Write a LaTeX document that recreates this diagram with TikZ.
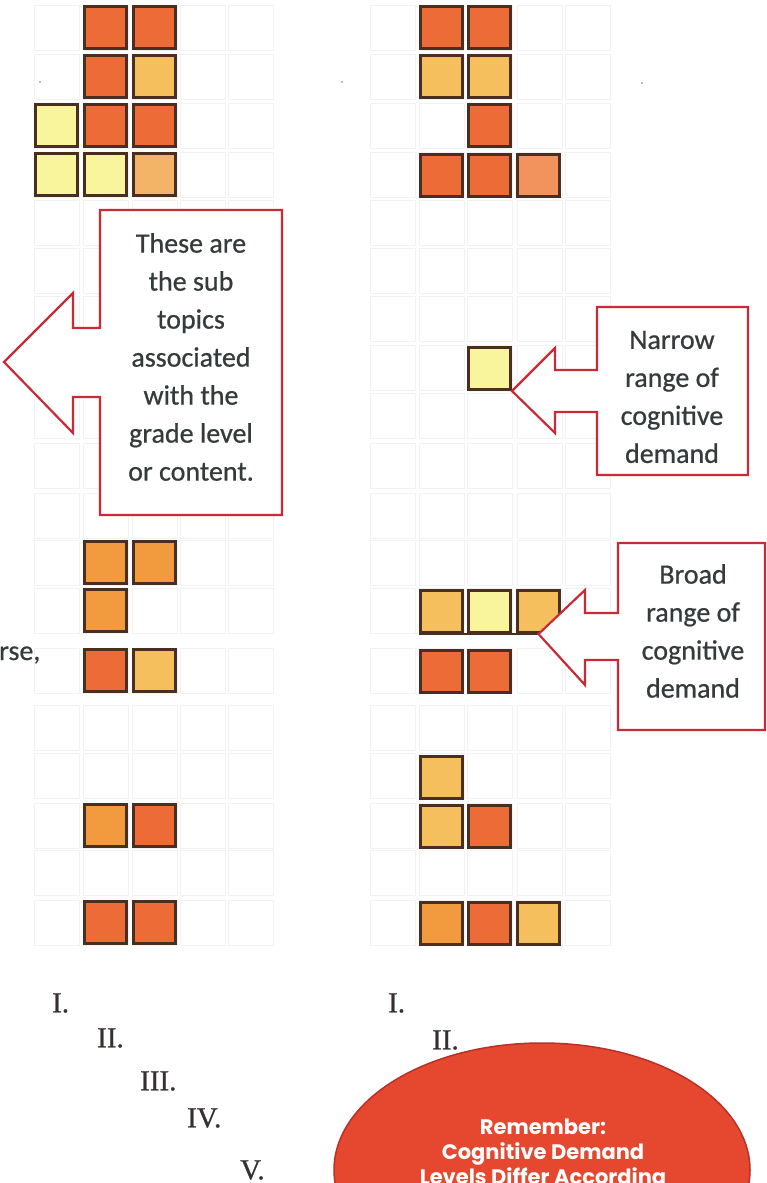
\documentclass[tikz,border=0pt]{standalone}
\usepackage{fontspec}
\newfontfamily\calibri{Carlito}[FakeBold=0.6]
\newfontfamily\gothic{Poppins}
\newfontfamily\romannum{Liberation Serif}[FakeBold=0.8]
\usetikzlibrary{shapes.geometric}

\definecolor{tileline}{HTML}{4A2F20}
\definecolor{dkor}{HTML}{EC6B36}
\definecolor{orng}{HTML}{F29B3E}
\definecolor{gold}{HTML}{F6BF5E}
\definecolor{yelw}{HTML}{F8F59C}
\definecolor{salm}{HTML}{F2935E}
\definecolor{peach}{HTML}{F4B468}
\definecolor{calloutred}{HTML}{C92A36}
\definecolor{notetext}{HTML}{353A3A}
\definecolor{numtext}{HTML}{363030}
\definecolor{ellfill}{HTML}{E6472F}
\definecolor{elldraw}{HTML}{B8302A}

\begin{document}
\begin{tikzpicture}[x=1pt, y=-1pt,
		cell/.style={draw=black!5, line width=0.6pt},
		tile/.style={draw=tileline, line width=3pt, minimum size=42pt, inner sep=0pt},
		note/.style={font=\calibri\fontsize{28}{38}\selectfont, text=notetext, align=center},
		callout/.style={draw=calloutred, line width=2.2pt, fill=white, line join=miter},
		numeral/.style={font=\romannum\fontsize{29}{30}\selectfont, text=numtext, anchor=west, inner sep=0pt}]
		\useasboundingbox (0,0) rectangle (767,1183);
		
		% Faint table grid
		\foreach \y in {5,54,103,152,200,248,296,345,393,443,493,540,588,648,705,753,803,850,900}
		\foreach \x in {34,83,132,180,228,370,419,467,517,565}
		\draw[cell] (\x,\y) rectangle ++(45,45);
		\fill[black!35] (40,82) circle (1.2pt) (342,82) circle (1.2pt) (642,83) circle (1.2pt);
		
		% Left grid
		\node[tile, fill=dkor] (a01) at (105.5,27.5) {};
		\node[tile, fill=dkor] (a02) at (154.5,27.5) {};
		\node[tile, fill=dkor] (a11) at (105.5,76.5) {};
		\node[tile, fill=gold] (a12) at (154.5,76.5) {};
		\node[tile, fill=yelw] (a20) at (56.5,125.5) {};
		\node[tile, fill=dkor] (a21) at (105.5,125.5) {};
		\node[tile, fill=dkor] (a22) at (154.5,125.5) {};
		\node[tile, fill=yelw] (a30) at (56.5,174.5) {};
		\node[tile, fill=yelw] (a31) at (105.5,174.5) {};
		\node[tile, fill=peach] (a32) at (154.5,174.5) {};
		\node[tile, fill=orng] (a41) at (105.5,562.5) {};
		\node[tile, fill=orng] (a42) at (154.5,562.5) {};
		\node[tile, fill=orng] (a51) at (105.5,610.5) {};
		\node[tile, fill=dkor] (a61) at (105.5,670.5) {};
		\node[tile, fill=gold] (a62) at (154.5,670.5) {};
		\node[tile, fill=orng] (a71) at (105.5,825.5) {};
		\node[tile, fill=dkor] (a72) at (154.5,825.5) {};
		\node[tile, fill=dkor] (a81) at (105.5,922.5) {};
		\node[tile, fill=dkor] (a82) at (154.5,922.5) {};
		
		% Right grid
		\node[tile, fill=dkor] (b01) at (441.5,27.5) {};
		\node[tile, fill=dkor] (b02) at (489.5,27.5) {};
		\node[tile, fill=gold] (b11) at (441.5,76.5) {};
		\node[tile, fill=gold] (b12) at (489.5,76.5) {};
		\node[tile, fill=dkor] (b22) at (489.5,125.5) {};
		\node[tile, fill=dkor] (b31) at (441.5,175.5) {};
		\node[tile, fill=dkor] (b32) at (489.5,175.5) {};
		\node[tile, fill=salm] (b33) at (538.5,175.5) {};
		\node[tile, fill=yelw] (b42) at (489.5,368.5) {};
		\node[tile, fill=gold] (b51) at (441.5,611.5) {};
		\node[tile, fill=yelw] (b52) at (489.5,611.5) {};
		\node[tile, fill=gold] (b53) at (538.5,611.5) {};
		\node[tile, fill=dkor] (b61) at (441.5,671) {};
		\node[tile, fill=dkor] (b62) at (489.5,671) {};
		\node[tile, fill=gold] (b71) at (441.5,777.5) {};
		\node[tile, fill=gold] (b81) at (441.5,826.5) {};
		\node[tile, fill=dkor] (b82) at (489.5,826.5) {};
		\node[tile, fill=orng] (b91) at (441.5,923.5) {};
		\node[tile, fill=dkor] (b92) at (489.5,923.5) {};
		\node[tile, fill=gold] (b93) at (538.5,923.5) {};
		\draw[tileline, line width=1.5pt] (b51.south west) -- (b53.south);
		
		% Callout: sub topics
		\coordinate (subtip) at (4,362);
		\draw[callout] (100,210) -- (282,210) -- (282,515) -- (100,515) -- (100,397) -- (73,397) -- (73,433) -- (subtip) -- (73,293) -- (73,328) -- (100,328) -- cycle;
		\node[note] (subtopics) at (191,357) {These are\\the sub\\topics\\associated\\with the\\grade level\\or content.};
		
		% Callout: narrow range
		\draw[callout] (597,307) -- (748,307) -- (748,475) -- (597,475) -- (597,412) -- (555,412) -- (555,433) -- (b42.south east) -- (555,348) -- (555,370) -- (597,370) -- cycle;
		\node[note] (narrow) at (672,397) {Narrow\\range of\\cognitive\\demand};
		
		% Callout: broad range
		\draw[callout] (618,543) -- (765,543) -- (765,730) -- (618,730) -- (618,660) -- (585,660) -- (585,685) -- (b53.south) -- (585,590) -- (585,613) -- (618,613) -- cycle;
		\node[note] (broad) at (693,631) {Broad\\range of\\cognitive\\demand};
		
		% Cut-off text at the left margin
		\node[note, anchor=west, inner sep=0pt] (course) at (-1,655) {rse,};
		
		% Numerals
		\node[numeral] (la) at (52,1003) {I.};
		\node[numeral] (lb) at (97,1038) {II.};
		\node[numeral] (lc) at (140,1081) {III.};
		\node[numeral] (ld) at (187,1118) {IV.};
		\node[numeral] (le) at (240,1170) {V.};
		\node[numeral] (ra) at (388,1003) {I.};
		\node[numeral] (rb) at (432,1040) {II.};
		
		% Reminder
		\node[ellipse, draw=elldraw, fill=ellfill, line width=1.5pt, minimum width=416pt, minimum height=254pt] (remember) at (542,1170) {};
		\node[font=\gothic\bfseries\fontsize{21}{25}\selectfont, text=white, align=center] (remembertext) at (543,1155) {Remember:\\Cognitive Demand\\Levels Differ According};
	\end{tikzpicture}
\end{document}
